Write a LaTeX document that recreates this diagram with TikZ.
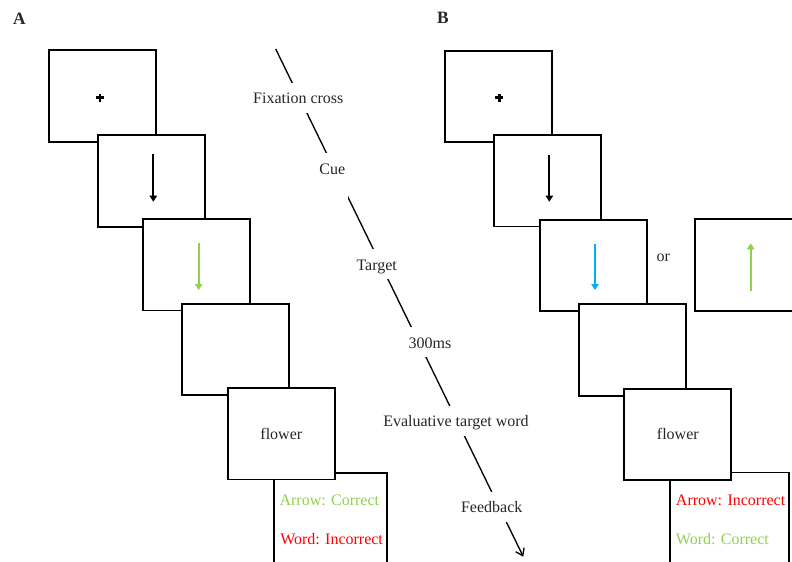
\documentclass[tikz,border=0pt]{standalone}
\usepackage{fontspec}
\setmainfont{Liberation Serif}
\usetikzlibrary{arrows.meta}
\definecolor{cgreen}{RGB}{146,208,80}
\definecolor{cred}{RGB}{255,0,0}
\definecolor{cblue}{RGB}{0,176,240}
\definecolor{ctext}{RGB}{38,38,38}
\begin{document}
\begin{tikzpicture}[x=0.75pt,y=-0.75pt,font=\fontsize{12}{14}\selectfont,
  screen/.style={rectangle,draw=black,fill=white,line width=1.4pt,minimum width=80.25pt,minimum height=68.6pt,inner sep=0pt,text=ctext},
  stim/.style={line width=1.5pt,-{Triangle[length=4.5pt,width=5.5pt]}},
  cross/.style={line width=2.2pt},
  phase/.style={fill=white,inner ysep=0pt,inner xsep=2pt,text height=15.75pt,text depth=6.75pt,anchor=base,text=ctext},
  fb/.style={anchor=west,inner sep=0pt}]
\useasboundingbox (0,0) rectangle (792,561);

\node[font=\fontsize{13}{15}\selectfont\bfseries,text=ctext] (lA) at (19.3,18.7) {A};
\node[font=\fontsize{13}{15}\selectfont\bfseries,text=ctext] (lB) at (442.8,17.5) {B};

% panel A
\node[screen] (a1) at (102.5,96) {};
\node[screen] (a2) at (151.5,181) {};
\node[screen] (a3) at (196.8,264.8) {};
\node[screen] (a4) at (235.8,349.3) {};
\node[screen,minimum width=84.75pt] (a6) at (330.2,518.8) {};
\node[screen] (a5) at (281.3,433.8) {flower};

\coordinate (fixa) at (100,97.8);
\draw[cross] ([shift={(-4,0)}]fixa) -- ([shift={(4,0)}]fixa);
\draw[cross] ([shift={(0,-4)}]fixa) -- ([shift={(0,4)}]fixa);
\draw[stim] ([shift={(1.8,-26.7)}]a2.center) -- ([shift={(1.8,20.7)}]a2.center);
\draw[stim,cgreen] ([shift={(1.9,-21.5)}]a3.center) -- ([shift={(1.9,25.2)}]a3.center);
\node[fb,cgreen] (a6arrow) at (279.3,500) {Arrow: Correct};
\node[fb,cred] (a6word) at (280,539) {Word: Incorrect};

% timeline
\coordinate (t0) at (275.7,49);
\coordinate (t1) at (523.3,556.7);
\draw[line width=1pt,-{Straight Barb[length=5pt,width=7pt]}] (t0) -- (t1);
\node[phase] (fix) at (298.3,103.6) {Fixation cross};
\node[phase,text depth=21pt] (cue) at (332.3,174.3) {Cue};
\node[phase] (tgt) at (376.7,270.3) {Target};
\node[phase] (isi) at (430,348) {300ms};
\node[phase] (eval) at (456,426.9) {Evaluative target word};
\node[phase] (feed) at (491.7,512.6) {Feedback};

% panel B
\node[screen] (b1) at (498.8,96.5) {};
\node[screen] (b2) at (547.8,180.8) {};
\node[screen] (b3) at (593.3,265.3) {};
\node[screen] (bx) at (748.8,265) {};
\node[screen] (b4) at (632.2,350) {};
\node[screen,minimum width=89.7pt] (b6) at (729.5,518.2) {};
\node[screen] (b5) at (677.8,434.3) {flower};

\coordinate (fixb) at (499.3,97.8);
\draw[cross] ([shift={(-4,0)}]fixb) -- ([shift={(4,0)}]fixb);
\draw[cross] ([shift={(0,-4)}]fixb) -- ([shift={(0,4)}]fixb);
\draw[stim] ([shift={(1.5,-25.8)}]b2.center) -- ([shift={(1.5,20.9)}]b2.center);
\draw[stim,cblue] ([shift={(1.7,-21.6)}]b3.center) -- ([shift={(1.7,24.7)}]b3.center);
\draw[stim,cgreen] ([shift={(1.9,25.7)}]bx.center) -- ([shift={(1.9,-21.7)}]bx.center);
\node[text=ctext] (or) at (663.3,258.3) {or};
\node[fb,cred] (b6arrow) at (675.7,500.7) {Arrow: Incorrect};
\node[fb,cgreen] (b6word) at (675.7,539) {Word: Correct};
\end{tikzpicture}
\end{document}
